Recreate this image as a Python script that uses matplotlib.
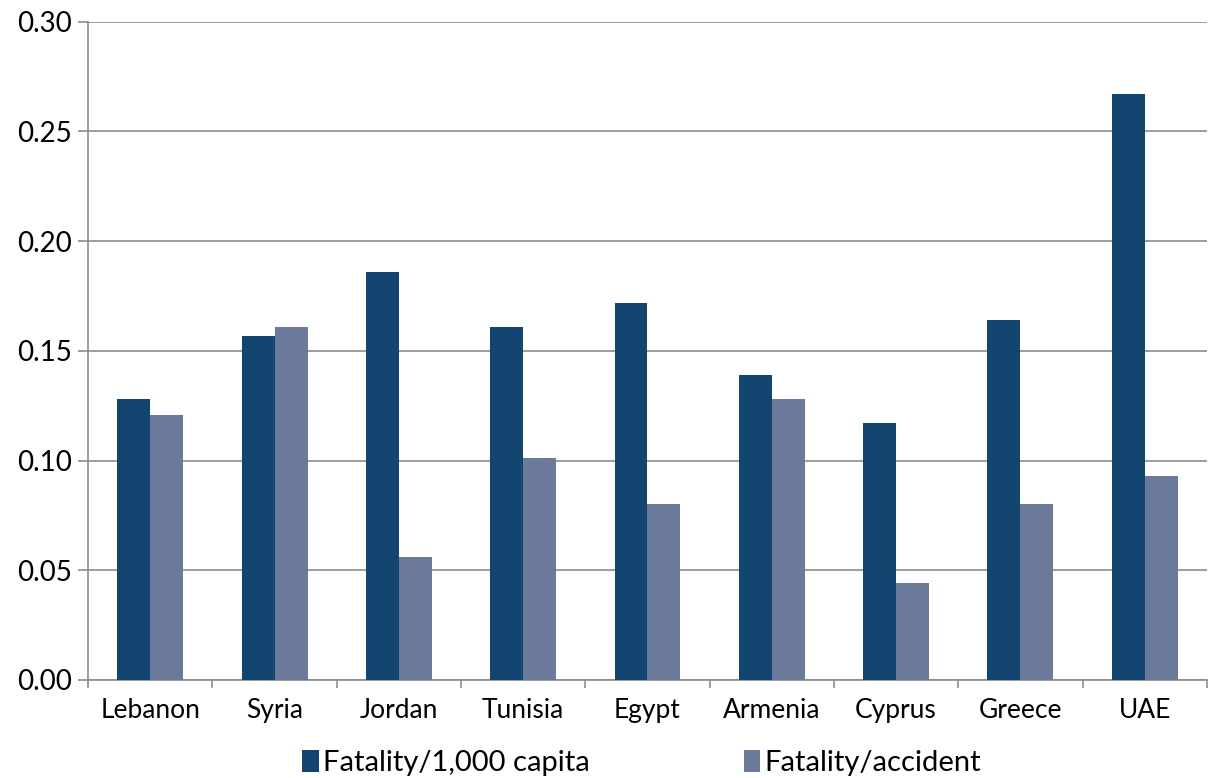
import numpy as np
import matplotlib
matplotlib.use("Agg")
import matplotlib.pyplot as plt

plt.rcParams['font.family'] = ['Lato', 'DejaVu Sans']

### data
pays = ['Lebanon', 'Syria', 'Jordan', 'Tunisia', 'Egypt', 'Armenia', 'Cyprus', 'Greece', 'UAE']
fatal_capita = [0.128, 0.157, 0.186, 0.161, 0.172, 0.139, 0.117, 0.164, 0.267]
fatal_accident = [0.121, 0.161, 0.056, 0.101, 0.080, 0.128, 0.044, 0.080, 0.093]

col_dark = '#134571'
col_light = '#6b7a9b'

fig = plt.figure(figsize=(12.08, 7.78), dpi=100)
ax = fig.add_axes([0.073, 0.126, 0.926, 0.846])

x = np.arange(len(pays))
w = 0.265
ax.bar(x - w/2, fatal_capita, w, color=col_dark, label='Fatality/1,000 capita', zorder=3)
ax.bar(x + w/2, fatal_accident, w, color=col_light, label='Fatality/accident', zorder=3)

## axes
ax.set_xlim(-0.5, len(pays) - 0.5)
ax.set_ylim(0, 0.30)
ax.set_yticks(np.arange(0, 0.31, 0.05))
ax.set_yticklabels(['%.2f' % v for v in np.arange(0, 0.31, 0.05)], fontsize=20)
ax.yaxis.grid(True, color='#8c8c8c', linewidth=1.2, zorder=0)
ax.set_axisbelow(True)

ax.set_xticks(x)
ax.set_xticklabels(pays, fontsize=19)
ax.set_xticks(np.arange(-0.5, len(pays)), minor=True)
ax.tick_params(axis='x', which='major', length=0, pad=13)
ax.tick_params(axis='x', which='minor', length=6, color='#8c8c8c', width=1.2)
ax.tick_params(axis='y', length=7, color='#8c8c8c', width=1.2, pad=5)

for s in ['top', 'right']:
    ax.spines[s].set_visible(False)
for s in ['left', 'bottom']:
    ax.spines[s].set_color('#8c8c8c')
    ax.spines[s].set_linewidth(1.2)

ax.legend(loc='upper center', bbox_to_anchor=(0.495, -0.088), ncol=2, frameon=False,
          fontsize=21, handlelength=0.55, handleheight=0.8, handletextpad=0.15,
          columnspacing=5.3, borderaxespad=0)

fig.savefig('out.png', dpi=100)
